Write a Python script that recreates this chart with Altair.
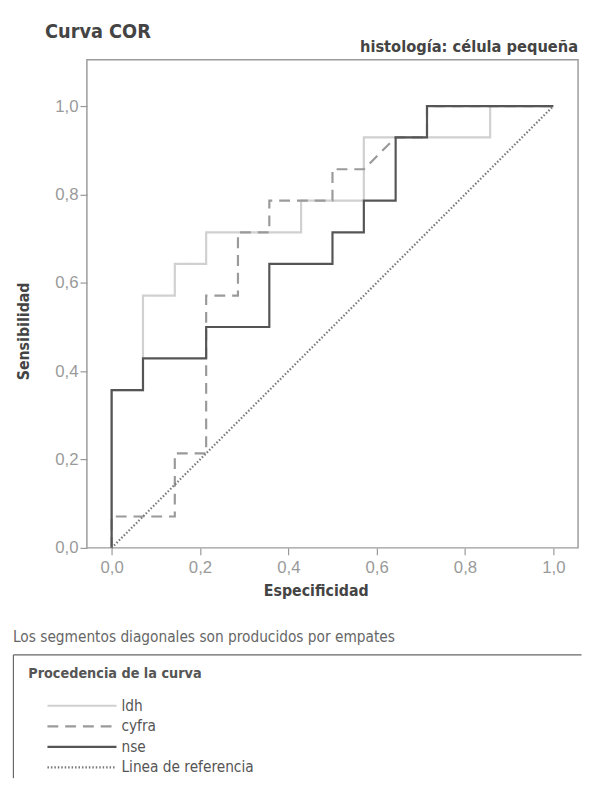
import altair as alt
import pandas as pd

FONT = "DejaVu Sans Condensed, Liberation Sans Narrow, sans-serif"
NUM_FONT = "Liberation Sans, Arial, sans-serif"

# ---- data ----
series_names = ["ldh", "cyfra", "nse", "Linea de referencia"]
series_colors = ["#d0d0d0", "#9a9a9a", "#555555", "#777777"]
series_dash = [[1, 0], [11, 7], [1, 0], [1.5, 2]]
series_width = [2.2, 2.2, 2.6, 1.4]

ldh_x = [0, 0, 0.071, 0.071, 0.143, 0.143, 0.214, 0.214, 0.429, 0.429, 0.571, 0.571, 0.857, 0.857, 1.0]
ldh_y = [0, 0.357, 0.357, 0.571, 0.571, 0.643, 0.643, 0.714, 0.714, 0.786, 0.786, 0.929, 0.929, 1.0, 1.0]

cyfra_x = [0, 0, 0.143, 0.143, 0.214, 0.214, 0.286, 0.286, 0.357, 0.357, 0.5, 0.5, 0.571, 0.643, 0.714, 0.714, 1.0]
cyfra_y = [0, 0.071, 0.071, 0.214, 0.214, 0.571, 0.571, 0.714, 0.714, 0.786, 0.786, 0.857, 0.857, 0.929, 0.929, 1.0, 1.0]

nse_x = [0, 0, 0.071, 0.071, 0.214, 0.214, 0.357, 0.357, 0.5, 0.5, 0.571, 0.571, 0.643, 0.643, 0.714, 0.714, 1.0]
nse_y = [0, 0.357, 0.357, 0.429, 0.429, 0.5, 0.5, 0.643, 0.643, 0.714, 0.714, 0.786, 0.786, 0.929, 0.929, 1.0, 1.0]

ref_x = [0, 1.0]
ref_y = [0, 1.0]

tick_values = [0, 0.2, 0.4, 0.6, 0.8, 1.0]

title_text = "Curva COR"
subtitle_text = "histología: célula pequeña"
x_title = "Especificidad"
y_title = "Sensibilidad"
footnote = "Los segmentos diagonales son producidos por empates"
legend_title = "Procedencia de la curva"

rows = []
for name, xs, ys in zip(series_names, [ldh_x, cyfra_x, nse_x, ref_x], [ldh_y, cyfra_y, nse_y, ref_y]):
    for i, (xv, yv) in enumerate(zip(xs, ys)):
        rows.append({"serie": name, "x": xv, "y": yv, "idx": i})
df = pd.DataFrame(rows)

color = alt.Color("serie:N", scale=alt.Scale(domain=series_names, range=series_colors), legend=None)
dash = alt.StrokeDash("serie:N", scale=alt.Scale(domain=series_names, range=series_dash), legend=None)
width = alt.StrokeWidth("serie:N", scale=alt.Scale(domain=series_names, range=series_width), legend=None)

label_expr = "replace(format(datum.value, '.1f'), '.', ',')"

x_enc = alt.X(
    "x:Q",
    scale=alt.Scale(domain=[-0.056, 1.056], nice=False, zero=False),
    axis=alt.Axis(
        values=tick_values, labelExpr=label_expr, title=x_title, grid=False, domain=False,
        tickSize=7, tickColor="#999999", tickWidth=1.2,
        labelFont=NUM_FONT, labelFontSize=17, labelColor="#9a9a9a", labelPadding=5,
        titleFont=FONT, titleFontSize=16, titleFontWeight="bold", titleColor="#444444",
        titleX=232, titleY=43, titleAlign="center", titleBaseline="middle",
    ),
)
y_enc = alt.Y(
    "y:Q",
    scale=alt.Scale(domain=[0, 1.105], nice=False, zero=False),
    axis=alt.Axis(
        values=tick_values, labelExpr=label_expr, title=y_title, grid=False, domain=False,
        tickSize=7, tickColor="#999999", tickWidth=1.2,
        labelFont=NUM_FONT, labelFontSize=17, labelColor="#9a9a9a", labelPadding=2,
        titleFont=FONT, titleFontSize=16, titleFontWeight="bold", titleColor="#444444",
        titleX=-64, titleY=275, titleAngle=270, titleAlign="center", titleBaseline="middle",
    ),
)

base = alt.Chart(df).encode(
    x=x_enc, y=y_enc, color=color, strokeDash=dash, strokeWidth=width, order="idx:Q"
)
layers = [
    base.transform_filter(alt.datum.serie == n).mark_line(clip=False, strokeCap="butt")
    for n in series_names
]
main = alt.layer(*layers).properties(
    width=498,
    height=495,
    view=alt.ViewBackground(stroke="#9c9c9c", strokeWidth=1.5),
    title=alt.TitleParams(
        subtitle_text, anchor="end", fontSize=16.5, fontWeight="bold", color="#444444",
        font=FONT, offset=4,
    ),
)

# narrow empty spacer so that the legend box starts left of the plot frame
spacer = (
    alt.Chart(pd.DataFrame({"s": [0]}))
    .mark_point(opacity=0)
    .transform_filter("false")
    .properties(width=1, height=1, view=alt.ViewBackground(stroke="transparent"))
)
top_row = alt.hconcat(spacer, main, spacing=0)

# ---- legend panel ----
LEG_W = 576
leg_df = pd.DataFrame({"serie": series_names})
leg_y = alt.Y(
    "serie:N",
    sort=series_names,
    scale=alt.Scale(type="band", domain=series_names, paddingInner=0, paddingOuter=1, align=1),
    axis=alt.Axis(orient="left", domain=True, domainColor="#666666", domainWidth=1.2,
                  ticks=False, labels=False, title=None, grid=False),
)
leg_x = alt.XDatum(
    0,
    type="quantitative",
    scale=alt.Scale(domain=[-35 / 70, -35 / 70 + LEG_W / 70], nice=False, zero=False),
    axis=alt.Axis(orient="top", domain=True, domainColor="#666666", domainWidth=1.2,
                  ticks=False, labels=False, grid=False, title=legend_title,
                  titleFont=FONT, titleFontSize=14.5, titleFontWeight="bold", titleColor="#555555",
                  titleX=15, titleY=19, titleAngle=0, titleAlign="left", titleBaseline="middle"),
)
leg_base = alt.Chart(leg_df).encode(y=leg_y)
leg_rules = leg_base.mark_rule(strokeCap="butt").encode(
    x=leg_x, x2=alt.X2Datum(1), color=color, strokeDash=dash, strokeWidth=width
)
leg_text = leg_base.mark_text(
    align="left", baseline="middle", dx=5, font=FONT, fontSize=15.5, color="#555555"
).encode(x=alt.XDatum(1, type="quantitative"), text="serie:N")

legend_panel = alt.layer(leg_rules, leg_text).properties(
    width=LEG_W,
    height=125,
    view=alt.ViewBackground(stroke="transparent"),
    title=alt.TitleParams(
        footnote, anchor="start", fontSize=15.5, fontWeight="normal", color="#666666",
        font=FONT, offset=9,
    ),
)

chart = alt.vconcat(top_row, legend_panel, spacing=31).properties(
    title=alt.TitleParams(
        title_text, anchor="start", fontSize=20, fontWeight="bold", color="#444444",
        font=FONT, dx=33, offset=-3,
    ),
    padding={"left": 4, "top": 8, "right": 0, "bottom": 0},
)

chart.save("out.html", embed_options={"renderer": "svg", "actions": False})
